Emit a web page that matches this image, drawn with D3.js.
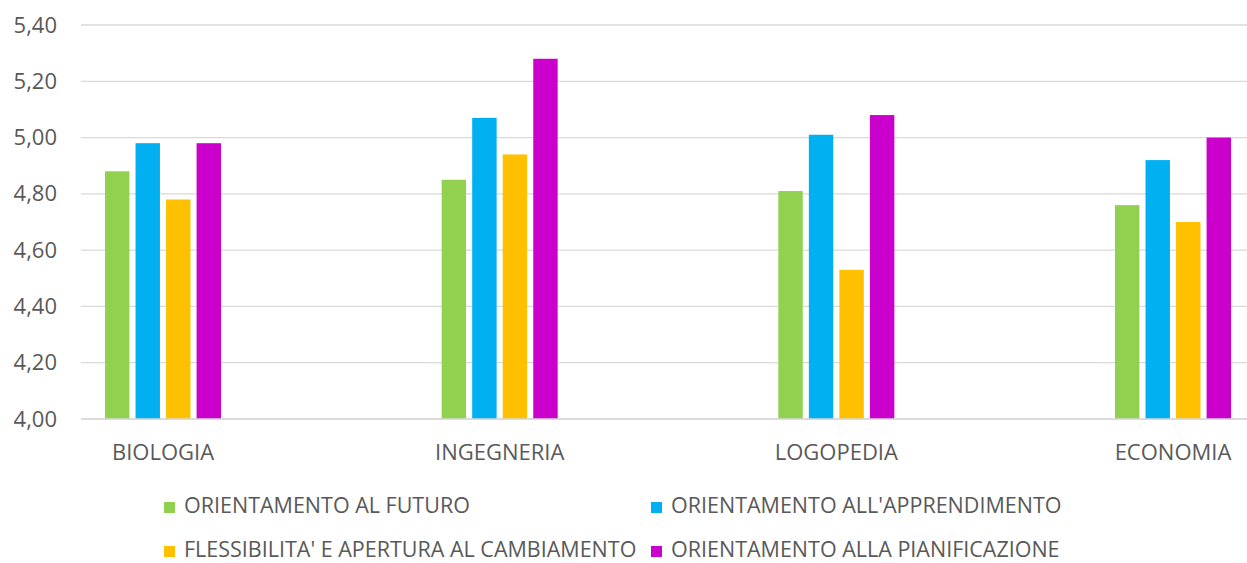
<!DOCTYPE html>
<html>
<head>
<meta charset="utf-8">
<script src="https://cdn.jsdelivr.net/npm/d3@7"></script>
<style>
  body { margin: 0; background: #fff; }
  svg { display: block; font-family: "Open Sans", sans-serif; }
</style>
</head>
<body>
<svg id="chart"></svg>
<script>
const categories = ['BIOLOGIA', 'INGEGNERIA', 'LOGOPEDIA', 'ECONOMIA'];
const seriesNames = [
  'ORIENTAMENTO AL FUTURO',
  "ORIENTAMENTO ALL'APPRENDIMENTO",
  "FLESSIBILITA' E APERTURA AL CAMBIAMENTO",
  'ORIENTAMENTO ALLA PIANIFICAZIONE'
];
const futuro = [4.88, 4.85, 4.81, 4.76];
const apprendimento = [4.98, 5.07, 5.01, 4.92];
const flessibilita = [4.78, 4.94, 4.53, 4.70];
const pianificazione = [4.98, 5.28, 5.08, 5.00];
const yTicks = [4.0, 4.2, 4.4, 4.6, 4.8, 5.0, 5.2, 5.4];

const colors = ['#92d050', '#00b0f0', '#ffc000', '#cc00cc'];
const values = [futuro, apprendimento, flessibilita, pianificazione];

const width = 1247, height = 563;
const svg = d3.select('#chart').attr('width', width).attr('height', height);

const y = d3.scaleLinear().domain([4, 5.4]).range([419, 25]);
const x = d3.scalePoint().domain(categories).range([163, 1173]);
const xs = d3.scaleBand().domain(seriesNames).range([-58, 58]).paddingInner(0.2);
const fmt = v => d3.format('.2f')(v).replace('.', ',');

// gridlines
svg.append('g')
  .selectAll('line')
  .data(yTicks)
  .join('line')
  .attr('x1', 81).attr('x2', width)
  .attr('y1', d => y(d)).attr('y2', d => y(d))
  .attr('stroke', '#d9d9d9')
  .attr('stroke-width', 1.3);

// y axis labels
const yAxis = svg.append('g')
  .attr('transform', 'translate(57,0)')
  .call(d3.axisLeft(y).tickValues(yTicks).tickFormat(fmt).tickSize(0).tickPadding(0));
yAxis.select('.domain').remove();
yAxis.selectAll('text')
  .attr('fill', '#595959')
  .style('font-size', '22px')
  .style('font-family', '"Open Sans", sans-serif');

// bars
const groups = svg.append('g')
  .selectAll('g')
  .data(categories)
  .join('g')
  .attr('transform', d => `translate(${x(d)},0)`);

groups.selectAll('rect')
  .data((c, i) => seriesNames.map((s, j) => ({ s, j, v: values[j][i] })))
  .join('rect')
  .attr('x', d => xs(d.s))
  .attr('width', xs.bandwidth())
  .attr('y', d => y(d.v))
  .attr('height', d => y(4) - y(d.v))
  .attr('fill', d => colors[d.j]);

// x axis line
svg.append('line')
  .attr('x1', 81).attr('x2', width)
  .attr('y1', y(4)).attr('y2', y(4))
  .attr('stroke', '#d9d9d9')
  .attr('stroke-width', 1.5);

// category labels
svg.append('g')
  .selectAll('text')
  .data(categories)
  .join('text')
  .attr('x', d => x(d))
  .attr('y', 460)
  .attr('text-anchor', 'middle')
  .attr('fill', '#595959')
  .style('font-size', '22px')
  .text(d => d);

// legend
const legendPos = [[164, 513], [651, 513], [164, 557], [651, 557]];
const legend = svg.append('g')
  .selectAll('g')
  .data(seriesNames)
  .join('g')
  .attr('transform', (d, i) => `translate(${legendPos[i][0]},${legendPos[i][1]})`);

legend.append('rect')
  .attr('x', 0).attr('y', -11)
  .attr('width', 11).attr('height', 11)
  .attr('fill', (d, i) => colors[i]);

legend.append('text')
  .attr('x', 20).attr('y', 0)
  .attr('fill', '#595959')
  .style('font-size', '21.5px')
  .text(d => d);
</script>
</body>
</html>
